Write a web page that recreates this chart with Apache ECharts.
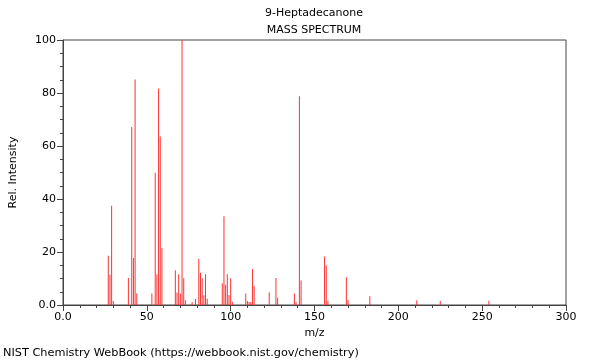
<!DOCTYPE html>
<html>
<head>
<meta charset="utf-8">
<script src="https://cdn.jsdelivr.net/npm/echarts@6/dist/echarts.min.js"></script>
<style>
html,body{margin:0;padding:0;background:#fff;}
#c{width:600px;height:360px;}
</style>
</head>
<body>
<div id="c"></div>
<script>
const mz = [27,28,29,30,39,41,42,43,44,53,55,56,57,58,59,67,68,69,70,71,72,73,77,79,81,82,83,84,85,86,95,96,97,98,99,100,101,109,110,111,112,113,114,123,127,128,138,139,141,142,156,157,158,169,170,183,211,225,254];
const intensity = [18.6,11.4,37.5,1.5,10.2,67.2,17.7,85.1,4.3,4.3,49.9,11.6,81.7,63.6,21.5,13.1,4.7,11.6,4.3,100,10.1,1.8,1.1,2.3,17.5,12.2,10.1,3.7,11.6,2.4,8.2,33.5,7.6,11.6,3.8,10.1,1.1,4.3,1.5,1.1,1.1,13.6,7.1,4.8,10.2,2.7,4.3,1.1,78.8,9.2,18.3,14.9,1.5,10.5,1.9,3.3,1.8,1.5,1.6];
const xTicks = [0,50,100,150,200,250,300];
const yTicks = [0,20,40,60,80,100];
const titleText = '9-Heptadecanone';
const subTitleText = 'MASS SPECTRUM';
const footerText = 'NIST Chemistry WebBook (https://webbook.nist.gov/chemistry)';

const font = 'DejaVu Sans';
const axisColor = '#444';
const fmt = v => v === 0 ? '0.0' : String(v);

const chart = echarts.init(document.getElementById('c'), null, {renderer: 'canvas'});
chart.setOption({
  animation: false,
  backgroundColor: '#fff',
  grid: {left: 61, right: 34, top: 40, bottom: 55, show: true, borderColor: axisColor, borderWidth: 1},
  graphic: [
    {type: 'text', x: 314, y: 13, style: {text: titleText, font: '11px "DejaVu Sans"', fill: '#000', textAlign: 'center', textVerticalAlign: 'middle'}},
    {type: 'text', x: 314, y: 30, style: {text: subTitleText, font: '11px "DejaVu Sans"', fill: '#000', textAlign: 'center', textVerticalAlign: 'middle'}},
    {type: 'text', x: 3, y: 353, style: {text: footerText, font: '11.3px "DejaVu Sans"', fill: '#000', textAlign: 'left', textVerticalAlign: 'middle'}}
  ],
  xAxis: {
    type: 'value', min: xTicks[0], max: xTicks[xTicks.length - 1], interval: 50,
    name: 'm/z', nameLocation: 'middle', nameGap: 22,
    nameTextStyle: {fontFamily: font, fontSize: 11, color: '#000'},
    axisLine: {show: true, lineStyle: {color: axisColor}},
    axisTick: {show: true, length: 6, lineStyle: {color: axisColor}},
    minorTick: {show: true, splitNumber: 5, length: 3, lineStyle: {color: axisColor}},
    axisLabel: {fontFamily: font, fontSize: 11, color: '#000', margin: 7, formatter: fmt},
    splitLine: {show: false}
  },
  yAxis: {
    type: 'value', min: yTicks[0], max: yTicks[yTicks.length - 1], interval: 20,
    name: 'Rel. Intensity', nameLocation: 'middle', nameGap: 44, nameRotate: 90,
    nameTextStyle: {fontFamily: font, fontSize: 11, color: '#000'},
    axisLine: {show: true, lineStyle: {color: axisColor}},
    axisTick: {show: true, length: 6, lineStyle: {color: axisColor}},
    minorTick: {show: true, splitNumber: 4, length: 3, lineStyle: {color: axisColor}},
    axisLabel: {fontFamily: font, fontSize: 11, color: '#000', margin: 7, formatter: fmt},
    splitLine: {show: false}
  },
  series: [{
    type: 'bar',
    barWidth: 1,
    data: mz.map((m, i) => [m, intensity[i]]),
    itemStyle: {color: 'rgb(255,50,50)'},
    silent: true
  }]
});
</script>
</body>
</html>
